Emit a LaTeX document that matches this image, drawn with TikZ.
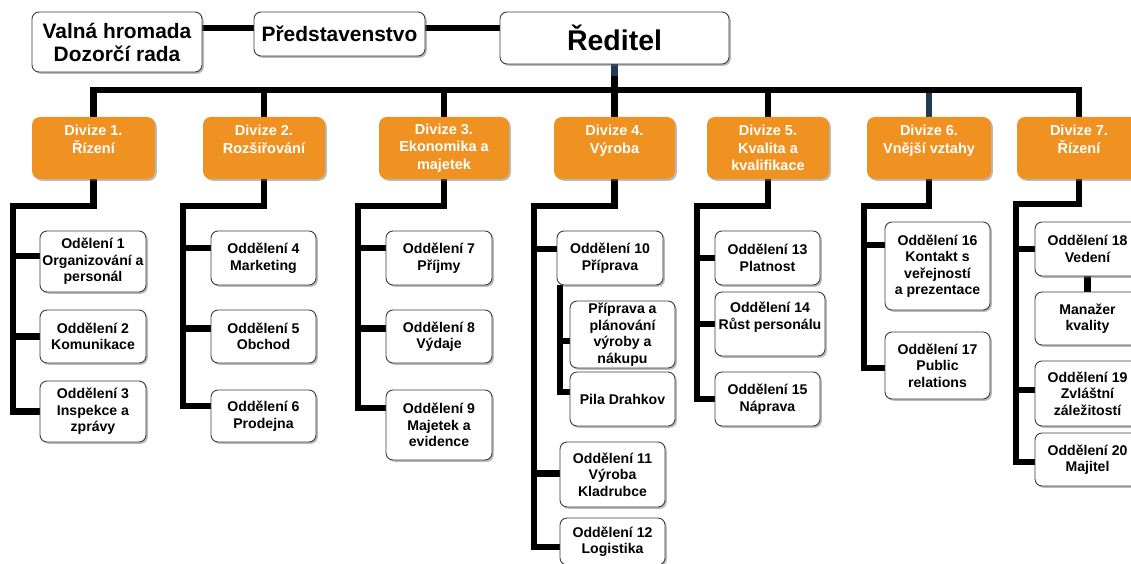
\documentclass[tikz,border=0pt]{standalone}
\usepackage{fontspec}
\setmainfont{Liberation Sans}
\usetikzlibrary{shadows,backgrounds}
\definecolor{divorange}{RGB}{240,146,33}
\definecolor{linkblue}{RGB}{31,58,84}
\definecolor{boxline}{RGB}{60,60,60}
\begin{document}
\begin{tikzpicture}[x=1pt,y=-1pt,
  shad/.style={drop shadow={shadow xshift=1.8pt,shadow yshift=-1.8pt,fill=black!60,opacity=0.45}},
  box/.style={draw=boxline,line width=0.9pt,fill=white,rounded corners=7pt,align=center,inner sep=1pt,shad,
    font=\bfseries\fontsize{14.1}{16.5}\selectfont},
  topbox/.style={box,font=\bfseries\fontsize{20.9}{23}\selectfont},
  divbox/.style={fill=divorange,rounded corners=8pt,text=white,align=center,inner sep=1pt,shad,
    minimum height=62pt,font=\bfseries\fontsize{14.5}{17.5}\selectfont},
  conn/.style={line width=6.8pt,line join=miter,draw=black}]
\useasboundingbox (0,0) rectangle (1131,564);
\clip (0,0) rectangle (1131,564);

% top row
\node[topbox,minimum width=170pt,minimum height=60pt] (valna) at (117,42) {Valná hromada\\Dozorčí rada};
\node[topbox,minimum width=171pt,minimum height=44pt] (pred) at (339.5,34) {Představenstvo};
\node[box,minimum width=229pt,minimum height=52pt,font=\bfseries\fontsize{28.5}{32}\selectfont] (red) at (614.5,38) {Ředitel};

% divisions
\node[divbox,minimum width=123pt] (d1) at (93.5,148) {Divize 1.\\Řízení\\~};
\node[divbox,minimum width=122pt] (d2) at (264,148) {Divize 2.\\Rozšiřování\\~};
\node[divbox,minimum width=130pt] (d3) at (444,148) {Divize 3.\\Ekonomika a\\majetek};
\node[divbox,minimum width=121pt] (d4) at (614.5,148) {Divize 4.\\Výroba\\~};
\node[divbox,minimum width=122pt] (d5) at (768,148) {Divize 5.\\Kvalita a\\kvalifikace};
\node[divbox,minimum width=124pt] (d6) at (929,148) {Divize 6.\\Vnější vztahy\\~};
\node[divbox,minimum width=124pt] (d7) at (1079,148) {Divize 7.\\Řízení\\~};

% departments
\node[box,minimum width=106pt,minimum height=61pt] (o1) at (93,261.5) {Odělení 1\\Organizování a\\personál};
\node[box,minimum width=106pt,minimum height=53pt] (o2) at (93,336.5) {Oddělení 2\\Komunikace};
\node[box,minimum width=106pt,minimum height=61pt] (o3) at (93,411.5) {Oddělení 3\\Inspekce a\\zprávy};

\node[box,minimum width=105pt,minimum height=54pt] (o4) at (263.5,258) {Oddělení 4\\Marketing};
\node[box,minimum width=105pt,minimum height=53pt] (o5) at (263.5,336.5) {Oddělení 5\\Obchod};
\node[box,minimum width=105pt,minimum height=52pt] (o6) at (263.5,416) {Oddělení 6\\Prodejna};

\node[box,minimum width=106pt,minimum height=54pt] (o7) at (439,258) {Oddělení 7\\Příjmy};
\node[box,minimum width=106pt,minimum height=53pt] (o8) at (439,336.5) {Oddělení 8\\Výdaje};
\node[box,minimum width=106pt,minimum height=70pt] (o9) at (439,425) {Oddělení 9\\Majetek a\\evidence};

\node[box,minimum width=106pt,minimum height=54pt] (o10) at (610,258) {Oddělení 10\\Příprava};
\node[box,minimum width=105pt,minimum height=67pt] (prip) at (622.5,334.5) {Příprava a\\plánování\\výroby a\\nákupu};
\node[box,minimum width=105pt,minimum height=54pt] (pila) at (622.5,399) {Pila Drahkov};
\node[box,minimum width=105pt,minimum height=65pt] (o11) at (612.5,474.5) {Oddělení 11\\Výroba\\Kladrubce};
\node[box,minimum width=105pt,minimum height=47pt] (o12) at (612.5,541.5) {Oddělení 12\\Logistika};

\node[box,minimum width=105pt,minimum height=54pt] (o13) at (767.5,258) {Oddělení 13\\Platnost};
\node[box,minimum width=110pt,minimum height=64pt] (o14) at (770,324) {Oddělení 14\\Růst personálu\\~};
\node[box,minimum width=105pt,minimum height=54pt] (o15) at (767.5,399) {Oddělení 15\\Náprava};

\node[box,minimum width=105pt,minimum height=88pt] (o16) at (937.5,266) {Oddělení 16\\Kontakt s\\veřejností\\a prezentace};
\node[box,minimum width=105pt,minimum height=67pt] (o17) at (937.5,365.5) {Oddělení 17\\Public\\relations};

\node[box,minimum width=105pt,minimum height=54pt] (o18) at (1087.5,249) {Oddělení 18\\Vedení};
\node[box,minimum width=105pt,minimum height=53pt] (man) at (1087.5,318.5) {Manažer\\kvality};
\node[box,minimum width=105pt,minimum height=65pt] (o19) at (1087.5,393.5) {Oddělení 19\\Zvláštní\\záležitostí};
\node[box,minimum width=105pt,minimum height=53pt] (o20) at (1087.5,459.5) {Oddělení 20\\Majitel};

% junction coordinates
\coordinate (bus) at (614.5,90);
\coordinate (s1) at (13,206);
\coordinate (s2) at (183,206);
\coordinate (s3) at (358,206);
\coordinate (s4) at (534,206);
\coordinate (s5) at (697,206);
\coordinate (s6) at (864,206);
\coordinate (s7) at (1016,204);
\coordinate (b1) at ([yshift=5.5pt]o1.west);
\coordinate (b2) at (o2.west);
\coordinate (b3) at (o3.west);
\coordinate (b4) at ([yshift=10pt]o4.west);
\coordinate (b5) at ([yshift=8pt]o5.west);
\coordinate (b6) at ([yshift=10pt]o6.west);
\coordinate (b7) at ([yshift=10pt]o7.west);
\coordinate (b8) at ([yshift=8pt]o8.west);
\coordinate (b9) at ([yshift=17pt]o9.west);
\coordinate (b10) at ([yshift=9pt]o10.west);
\coordinate (b11) at ([yshift=1pt]o11.west);
\coordinate (b12) at ([yshift=-5.5pt]o12.west);
\coordinate (bp) at ([yshift=-6.5pt]prip.west);
\coordinate (bpila) at ([yshift=7pt]pila.west);
\coordinate (t4) at ([xshift=3pt]o10.south west);
\coordinate (b13) at (o13.west);
\coordinate (b14) at (o14.west);
\coordinate (b15) at (o15.west);
\coordinate (b16) at ([yshift=21pt]o16.west);
\coordinate (b17) at ([yshift=-2.5pt]o17.west);
\coordinate (b18) at (o18.west);
\coordinate (b19) at ([yshift=3.5pt]o19.west);
\coordinate (b20) at ([yshift=-2.5pt]o20.west);

\begin{pgfonlayer}{background}
% top connectors
\draw[conn] ([yshift=14pt]valna.east) -- ([yshift=14pt]valna.east -| pred.west);
\draw[conn] ([yshift=6pt]pred.east) -- ([yshift=6pt]pred.east -| red.west);
\draw[conn] (red.south) -- (bus);
\draw[conn,draw=linkblue] (red.south) -- ++(0,12);
% bus and division drops
\draw[conn,draw=linkblue] (d6.north) -- (d6.north |- bus);
\draw[conn] (d1.north) -- (d1.north |- bus) -- (d7.north |- bus) -- (d7.north);
\foreach \d in {d2,d3,d4,d5} \draw[conn] (\d.north) -- (\d.north |- bus);
% division 1
\draw[conn] (d1.south) |- (s1) -- (s1 |- b3) -- (b3);
\foreach \b in {b1,b2} \draw[conn] (s1 |- \b) -- (\b);
% division 2
\draw[conn] (d2.south) |- (s2) -- (s2 |- b6) -- (b6);
\foreach \b in {b4,b5} \draw[conn] (s2 |- \b) -- (\b);
% division 3
\draw[conn] (d3.south) |- (s3) -- (s3 |- b9) -- (b9);
\foreach \b in {b7,b8} \draw[conn] (s3 |- \b) -- (\b);
% division 4
\draw[conn] (d4.south) |- (s4) -- (s4 |- b12) -- (b12);
\foreach \b in {b10,b11} \draw[conn] (s4 |- \b) -- (\b);
\draw[conn,line width=6pt] (t4) -- (t4 |- bpila) -- (bpila);
\draw[conn,line width=6pt] (t4 |- bp) -- (bp);
% division 5
\draw[conn] (d5.south) |- (s5) -- (s5 |- b15) -- (b15);
\foreach \b in {b13,b14} \draw[conn] (s5 |- \b) -- (\b);
% division 6
\draw[conn] (d6.south) |- (s6) -- (s6 |- b17) -- (b17);
\draw[conn] (s6 |- b16) -- (b16);
% division 7
\draw[conn] (d7.south) |- (s7) -- (s7 |- b20) -- (b20);
\foreach \b in {b18,b19} \draw[conn] (s7 |- \b) -- (\b);
\draw[conn] (o18.south) -- (man.north);
\end{pgfonlayer}
\end{tikzpicture}
\end{document}
